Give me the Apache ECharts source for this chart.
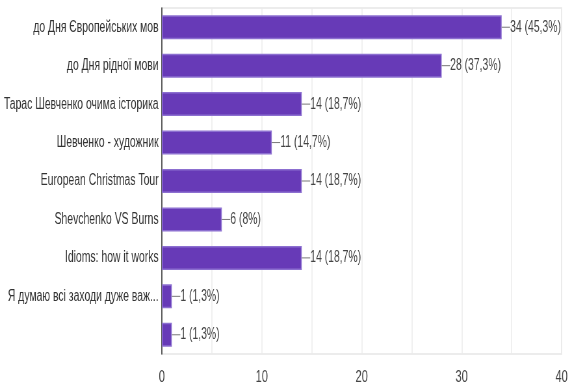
<!DOCTYPE html>
<html>
<head>
<meta charset="utf-8">
<script src="https://cdn.jsdelivr.net/npm/echarts@6/dist/echarts.min.js"></script>
<style>
  html, body { margin: 0; padding: 0; background: #fff; overflow: hidden; }
  /* drawn wider, then narrowed horizontally to get condensed lettering */
  #chart { width: 875px; height: 387px; transform: scaleX(0.65); transform-origin: 0 0; }
</style>
</head>
<body>
<div id="chart"></div>
<script>
// Survey answers (top to bottom) with counts and shares
const categories = [
  'до Дня Європейських мов',
  'до Дня рідної мови',
  'Тарас Шевченко очима історика',
  'Шевченко - художник',
  'European Christmas Tour',
  'Shevchenko VS Burns',
  'Idioms: how it works',
  'Я думаю всі заходи дуже важ...',
  ''
];
const counts = [34, 28, 14, 11, 14, 6, 14, 1, 1];
const shares = ['45,3%', '37,3%', '18,7%', '14,7%', '18,7%', '8%', '18,7%', '1,3%', '1,3%'];
const xTicks = [0, 10, 20, 30, 40];

const FONT = '"Liberation Sans", Arial, sans-serif';

const chart = echarts.init(document.getElementById('chart'), null, { renderer: 'canvas' });
chart.setOption({
  animation: false,
  grid: {
    left: 249, right: 11, top: 8, bottom: 33,
    containLabel: false,
    outerBoundsMode: 'none',
    show: true, borderColor: '#e6e6e6', borderWidth: 1.5
  },
  xAxis: {
    type: 'value',
    min: 0, max: 40, interval: 5,
    axisLine: { show: false },
    axisTick: { show: false },
    splitLine: { lineStyle: { color: '#ebebeb', width: 1.5 } },
    axisLabel: {
      margin: 15,
      color: '#444',
      fontFamily: FONT,
      fontSize: 17,
      formatter: v => xTicks.includes(v) ? String(v) : ''
    }
  },
  yAxis: {
    type: 'category',
    inverse: true,
    data: categories,
    axisLine: { lineStyle: { color: '#333', width: 1.6 } },
    axisTick: { show: false },
    axisLabel: { color: '#333', fontFamily: FONT, fontSize: 16, margin: 5 }
  },
  series: [{
    type: 'bar',
    data: counts,
    barWidth: 24,
    itemStyle: { color: '#673ab7', borderColor: '#8c6fd0', borderWidth: 1.5 },
    label: {
      show: true,
      position: 'right',
      distance: 0,
      color: '#444',
      fontFamily: FONT,
      fontSize: 16,
      formatter: p => '{ln|}' + p.value + ' (' + shares[p.dataIndex] + ')',
      rich: {
        ln: { width: 13, height: 1, backgroundColor: '#777', verticalAlign: 'middle' }
      }
    }
  }]
});
</script>
</body>
</html>
